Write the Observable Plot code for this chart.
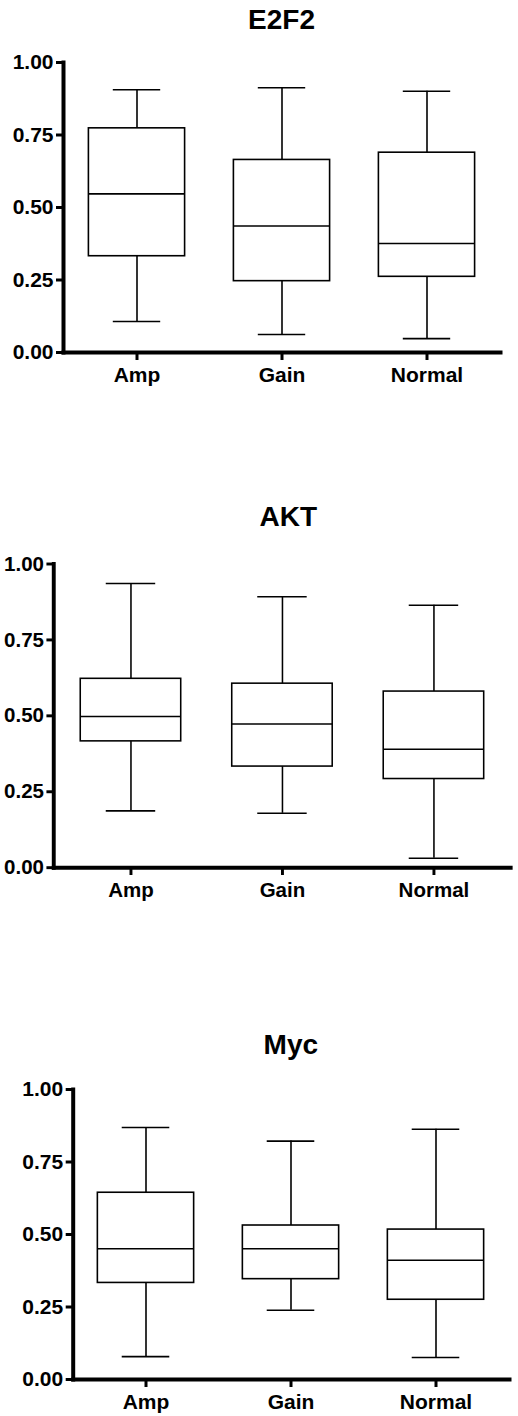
<!DOCTYPE html>
<html>
<head>
<meta charset="utf-8">
<script src="https://cdn.jsdelivr.net/npm/d3@7"></script>
<script src="https://cdn.jsdelivr.net/npm/@observablehq/plot@0.6"></script>
<style>
  html, body { margin: 0; padding: 0; background: #fff; }
  body { width: 518px; height: 1416px; position: relative; overflow: hidden;
         font-family: "Liberation Sans", Arial, sans-serif; }
  .panel { position: absolute; left: 0; }
  .title { position: absolute; text-align: center; font-weight: bold; font-size: 28px;
           line-height: 28px; color: #000; }
</style>
</head>
<body>
<script>
// Gene panels and copy-number groups
const genes = ["E2F2", "AKT", "Myc"];
const groups = ["Amp", "Gain", "Normal"];
const yTicks = [0, 0.25, 0.5, 0.75, 1];

// E2F2: whisker low, lower quartile, median, upper quartile, whisker high (Amp, Gain, Normal)
const e2f2Low = [0.107, 0.062, 0.048];
const e2f2Q1 = [0.332, 0.246, 0.261];
const e2f2Median = [0.547, 0.436, 0.376];
const e2f2Q3 = [0.773, 0.664, 0.689];
const e2f2High = [0.906, 0.913, 0.901];

// AKT
const aktLow = [0.187, 0.179, 0.031];
const aktQ1 = [0.416, 0.333, 0.292];
const aktMedian = [0.498, 0.473, 0.390];
const aktQ3 = [0.622, 0.606, 0.580];
const aktHigh = [0.936, 0.892, 0.864];

// Myc
const mycLow = [0.079, 0.239, 0.076];
const mycQ1 = [0.333, 0.346, 0.275];
const mycMedian = [0.451, 0.451, 0.411];
const mycQ3 = [0.644, 0.531, 0.517];
const mycHigh = [0.869, 0.822, 0.863];

const stats = [
  [e2f2Low, e2f2Q1, e2f2Median, e2f2Q3, e2f2High],
  [aktLow, aktQ1, aktMedian, aktQ3, aktHigh],
  [mycLow, mycQ1, mycMedian, mycQ3, mycHigh]
];

// Page layout of each panel
const layout = [
  {top: 40,   titleY: 20,   width: 518, height: 352, ml: 63,   mr: 18, mt: 22,   mb: 40},
  {top: 530,  titleY: 517,  width: 530, height: 385, ml: 54.5, mr: 8,  mt: 34.3, mb: 40},
  {top: 1060, titleY: 1045, width: 518, height: 356, ml: 72.7, mr: 9,  mt: 29,   mb: 37}
];

const fmt = d3.format(".2f");

genes.forEach((gene, k) => {
  const [lo, q1, med, q3, hi] = stats[k];
  const L = layout[k];
  const data = groups.map((g, i) => ({group: g, lo: lo[i], q1: q1[i], med: med[i], q3: q3[i], hi: hi[i]}));
  const band = (L.width - L.ml - L.mr) / groups.length;
  const boxInset = band * (1 - 0.665) / 2;
  const capInset = band * (1 - 0.33) / 2;
  const sw = 1.6;

  const chart = Plot.plot({
    width: L.width,
    height: L.height,
    marginTop: L.mt,
    marginBottom: L.mb,
    marginLeft: L.ml,
    marginRight: L.mr,
    x: {domain: groups, padding: 0, label: null},
    y: {domain: [0, 1], label: null},
    style: {fontFamily: "'Liberation Sans', Arial, sans-serif", color: "#000", background: "transparent", overflow: "visible"},
    marks: [
      Plot.ruleX(data, {x: "group", y1: "lo", y2: "q1", stroke: "#000", strokeWidth: sw}),
      Plot.ruleX(data, {x: "group", y1: "q3", y2: "hi", stroke: "#000", strokeWidth: sw}),
      Plot.tickY(data, {x: "group", y: "lo", insetLeft: capInset, insetRight: capInset, stroke: "#000", strokeWidth: sw}),
      Plot.tickY(data, {x: "group", y: "hi", insetLeft: capInset, insetRight: capInset, stroke: "#000", strokeWidth: sw}),
      Plot.barY(data, {x: "group", y1: "q1", y2: "q3", fill: "#fff", stroke: "#000", strokeWidth: sw, insetLeft: boxInset, insetRight: boxInset}),
      Plot.tickY(data, {x: "group", y: "med", insetLeft: boxInset, insetRight: boxInset, stroke: "#000", strokeWidth: sw}),
      Plot.axisY({ticks: yTicks, tickFormat: fmt, tickSize: 7, tickPadding: 3, stroke: "#000", strokeWidth: 3, fontSize: 21, fontWeight: "bold", fill: "#000"}),
      Plot.axisX({tickSize: 8, tickPadding: 7, stroke: "#000", strokeWidth: 3, fontSize: 21, fontWeight: "bold", fill: "#000"}),
      Plot.frame({anchor: "left", stroke: "#000", strokeWidth: 4, strokeLinecap: "square"}),
      Plot.frame({anchor: "bottom", stroke: "#000", strokeWidth: 4, strokeLinecap: "square"})
    ]
  });

  const wrap = document.createElement("div");
  wrap.className = "panel";
  wrap.style.top = L.top + "px";
  wrap.appendChild(chart);
  document.body.appendChild(wrap);

  const title = document.createElement("div");
  title.className = "title";
  title.textContent = gene;
  title.style.left = L.ml + "px";
  title.style.width = (L.width - L.ml - L.mr) + "px";
  title.style.top = (L.titleY - 13.7) + "px";
  document.body.appendChild(title);
});
</script>
</body>
</html>
